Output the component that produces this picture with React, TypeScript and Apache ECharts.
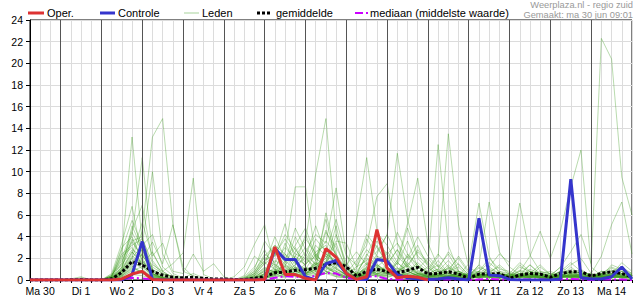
import React, { useEffect, useRef } from 'react';
import * as echarts from 'echarts';

// time axis: index in 6-hour steps, 0 = Ma 30 06:00, 59 = Di 15 00:00
const dayLabels = ['Ma 30', 'Di 1', 'Wo 2', 'Do 3', 'Vr 4', 'Za 5', 'Zo 6', 'Ma 7', 'Di 8', 'Wo 9', 'Do 10', 'Vr 11', 'Za 12', 'Zo 13', 'Ma 14'];
const midnights = [3, 7, 11, 15, 19, 23, 27, 31, 35, 39, 43, 47, 51, 55];

const oper = [0,0,0, 0,0,0,0, 0,0,0.1,0.55, 0.8,0.05,0,0, 0,0,0,0, 0,0,0,0, 0.05,3.05,0.5,0.5, 0.15,0,2.9,2.1, 0.6,0.05,0.3,4.65, 1.1,0.2,0.35,0.25, 0];

const controle = [0,0,0, 0,0,0,0, 0,0,0,0.5, 3.55,0.05,0,0, 0,0,0,0, 0,0,0,0, 0.05,2.9,1.9,1.9, 0.3,0,1.5,1.8, 0.6,0.05,0.05,1.9, 1.75,0.5,0.2,0.1, 0.05,0.1,0.2,0.1, 0,5.7,0.45,0.4, 0.05,0,0,0, 0,0.1,9.3,0.2, 0.1,0.1,0.3,1.2, 0.1];

const gemiddelde = [0,0,0, 0,0.02,0.04,0.01, 0,0.1,0.7,1.7, 1.4,0.8,0.45,0.25, 0.2,0.25,0.15,0.1, 0.1,0.05,0.05,0.15, 0.3,0.67,0.75,0.9, 0.95,1.08,1.38,1.6, 1.23,0.35,0.8,1.0, 0.77,0.67,0.9,1.17, 0.55,0.6,0.77,0.55, 0.15,0.55,0.55,0.6, 0.15,0.46,0.6,0.55, 0.25,0.6,0.77,0.77, 0.37,0.6,0.77,0.6, 0.3];

const mediaan = [0,0,0, 0,0,0,0, 0,0,0.05,0.2, 0.15,0.05,0,0, 0,0,0,0, 0,0,0,0, 0.05,0.2,0.35,0.3, 0.2,0.4,0.65,0.6, 0.2,0.1,0.3,0.35, 0.1,0.05,0.1,0.15, 0.05,0.05,0.05,0.05, 0,0.05,0.1,0.05, 0,0.05,0.05,0.05, 0,0.05,0.1,0.05, 0,0.05,0.05,0.05, 0];

const leden = [
  [0,0,0, 0,0,0,0, 0,0.3,2.5,13.2, 3.5,1,0.4,0.1, 0,0,0,0, 0,0,0,0.2, 0.8,1.5,0.6,2.2, 1.4,2.6,3.2,1.1, 0.4,0.1,0.6,1.8, 2.4,1.1,0.5,0.3, 0.2,0.6,1.1,0.4, 0.1,0.5,0.8,0.3, 0.2,0.6,0.4,0.1, 0.2,0.4,0.8,0.3, 0.1,0.2,0.6,0.4, 0.2],
  [0,0,0, 0,0,0,0, 0,0.5,1.5,4.2, 11.3,2.5,0.8,0.2, 0.1,0,0,0, 0,0,0.1,0.4, 1.2,0.6,2.4,1.1, 0.5,1.8,4.6,2.2, 0.8,0.3,1.2,0.6, 1.5,2.8,1.4,0.6, 0.3,0.2,0.8,1.5, 0.4,1.1,0.5,0.2, 0.3,1.4,0.6,0.2, 0.1,0.3,1.2,0.5, 0.3,0.5,1.1,0.6, 0.4],
  [0,0,0, 0,0,0,0, 0,0.2,0.8,2.1, 4.5,13.2,14.9,5.1, 1.2,0.3,0,0, 0,0,0,0, 0.2,0.8,0.4,1.2, 0.6,1.2,2.0,0.8, 0.3,0.6,1.1,0.4, 0.6,0.3,0.8,1.4, 0.5,0.2,0.4,0.6, 0.2,0.6,0.3,0.1, 0,0.3,0.5,0.2, 0.1,0.2,0.5,0.3, 0.2,0.4,0.3,0.2, 0.1],
  [0,0,0, 0,0,0,0, 0,0.4,2.8,5.5, 3.2,10.0,2.4,0.6, 0.2,0,0,0, 0,0,0.2,0.6, 2.1,1.4,0.8,2.6, 3.8,2.5,1.2,0.6, 0.2,0.5,2.4,1.3, 0.8,0.4,0.2,0.6, 1.2,0.4,0.2,0.3, 0.1,0.3,1.2,0.6, 0.4,0.2,0.3,0.8, 0.4,0.2,0.6,0.4, 0.1,0.3,0.4,0.8, 0.5],
  [0,0,0, 0,0,0,0, 0,0.2,1.2,3.5, 2.2,1.4,0.8,1.5, 2.5,9.4,0.5,0.1, 0,0,0,0, 0.3,0.5,1.2,0.6, 0.4,1.5,0.8,0.3, 0.2,0.1,0.6,1.4, 0.8,0.5,1.6,0.7, 0.3,0.5,0.2,0.4, 0.6,0.3,0.2,0.5, 0.3,0.2,0.6,0.3, 0.2,0.6,0.3,0.1, 0.2,0.5,0.8,0.3, 0.2],
  [0,0,0, 0,0.1,0.3,0, 0,0.6,3.4,6.8, 2.0,3.5,1.5,5.1, 0.8,0.4,0.1,0, 0,0,0,0, 0.1,0.4,1.8,0.9, 0.6,0.9,6.2,2.4, 0.6,0.2,0.4,0.8, 1.2,0.6,0.3,0.2, 0.4,0.8,0.3,0.2, 0.2,0.4,0.6,1.4, 0.6,0.3,0.2,0.4, 0.3,0.4,0.2,0.6, 0.3,0.2,0.5,0.4, 0.3],
  [0,0,0, 0,0,0,0, 0,0.3,2.0,4.6, 6.9,1.8,0.6,0.3, 0.1,0,0,0, 0,0,0,0.5, 1.5,2.2,5.2,1.8, 0.8,1.6,1.2,0.8, 0.5,0.3,0.8,0.5, 0.4,1.6,0.8,0.4, 0.2,0.4,1.2,0.6, 0.3,0.2,0.4,0.6, 0.2,0.6,1.4,0.5, 0.2,0.8,0.4,0.3, 0.2,0.6,0.4,0.2, 0.3],
  [0,0,0, 0,0,0,0, 0,0.2,1.0,2.4, 5.3,2.2,3.4,0.8, 0.6,2.4,0.8,1.5, 0.3,0,0,0, 0.2,0.6,0.3,0.8, 1.2,0.5,2.4,1.6, 0.4,0.2,0.6,0.3, 0.5,0.8,2.2,0.9, 0.3,0.6,0.4,0.2, 0.1,0.3,0.2,0.4, 0.3,0.5,0.3,0.2, 0.4,0.2,0.3,0.5, 0.6,0.3,0.2,0.3, 0.2],
  [0,0,0, 0,0,0,0, 0,0.1,0.8,1.6, 2.8,0.9,0.3,0.1, 0,0,0,0, 0,0.3,1.2,3.3, 5.1,1.2,2.6,8.6, 8.6,2.0,1.4,0.6, 0.3,0.2,1.5,0.8, 0.5,0.3,0.8,0.4, 0.2,0.5,0.3,0.6, 0.4,0.2,0.5,0.3, 0.2,0.4,0.2,0.6, 0.3,0.2,0.4,0.2, 0.4,0.2,0.3,0.6, 0.4],
  [0,0,0, 0,0,0,0, 0,0,0.4,1.2, 2.0,0.6,0.2,0, 0,0,0,0, 0,0,0,0.2, 0.6,0.8,1.4,2.2, 3.6,9.8,14.9,4.2, 1.2,0.4,0.8,0.5, 1.1,0.6,0.3,0.6, 0.3,0.2,0.4,0.3, 0.1,0.3,0.6,0.2, 0.2,0.3,0.2,0.4, 0.6,0.3,0.2,0.4, 0.2,0.1,0.3,0.2, 0.2],
  [0,0,0, 0,0,0,0, 0,0.2,0.6,2.0, 1.4,0.5,0.2,0, 0,0,0,0, 0,0,0.1,0.6, 1.8,3.2,2.4,1.5, 2.6,4.2,3.4,8.5, 2.4,0.6,0.4,1.2, 0.8,0.4,0.3,0.5, 0.8,0.3,0.2,0.4, 0.3,0.5,0.2,0.3, 0.5,0.2,0.3,0.2, 0.2,0.4,0.6,0.2, 0.3,0.5,0.2,0.4, 0.3],
  [0,0,0, 0,0,0,0, 0,0.1,0.5,1.4, 1.8,0.6,0.1,0, 0,0,0,0, 0,0,0,0.1, 0.4,1.2,0.8,0.6, 1.5,2.2,1.6,3.4, 0.8,5.5,11.3,4.6, 1.8,0.6,0.4,0.8, 0.4,0.6,0.3,0.2, 0.2,0.4,0.3,0.6, 0.4,0.2,0.8,0.3, 0.2,0.3,0.4,0.2, 0.3,0.2,0.4,0.3, 0.2],
  [0,0,0, 0,0,0,0, 0,0.2,1.1,2.6, 1.6,0.4,0.1,0, 0,0,0,0, 0,0,0,0.3, 0.9,0.5,1.6,3.0, 1.2,0.8,2.6,1.4, 0.6,1.8,3.2,7.7, 8.9,3.4,1.2,0.6, 0.3,0.5,1.4,0.6, 0.3,0.2,0.4,0.2, 0.3,0.6,0.4,0.2, 0.1,0.3,0.5,0.8, 0.4,0.2,0.6,0.5, 0.3],
  [0,0,0, 0,0,0,0, 0,0,0.3,0.9, 1.2,0.4,0.1,0, 0,0,0,0, 0,0,0,0, 0.3,0.6,1.0,0.4, 0.8,1.4,2.2,1.0, 0.5,0.3,0.8,2.4, 4.2,11.7,5.6,2.2, 1.4,0.6,0.3,0.5, 0.2,0.4,0.6,0.3, 0.2,0.3,0.2,0.4, 0.2,0.5,0.3,0.2, 0.2,0.4,0.3,0.2, 0.2],
  [0,0,0, 0,0,0,0, 0,0.1,0.4,1.1, 0.8,0.3,0,0, 0,0,0,0, 0,0,0,0.2, 0.5,0.8,0.4,1.1, 0.6,1.3,0.9,1.8, 0.6,0.4,1.0,1.5, 0.6,1.8,5.2,9.4, 3.4,1.2,2.4,0.8, 0.4,0.6,0.3,0.2, 0.4,0.2,0.6,0.3, 0.2,0.3,0.2,0.5, 0.3,0.6,0.4,0.3, 0.4],
  [0,0,0, 0,0,0,0, 0,0,0.2,0.6, 0.9,0.2,0,0, 0,0,0,0, 0,0,0,0, 0.2,0.4,0.8,0.5, 0.4,1.0,1.6,0.7, 0.3,0.5,0.4,1.2, 2.0,0.8,1.4,2.6, 1.5,12.5,3.2,0.8, 0.4,0.8,0.3,0.2, 0.3,0.4,0.3,0.2, 0.1,0.2,0.4,0.3, 0.2,0.3,0.2,0.4, 0.2],
  [0,0,0, 0,0,0,0, 0,0.1,0.5,1.3, 0.6,0.2,0,0, 0,0,0,0, 0,0,0,0.1, 0.3,0.9,0.6,1.2, 0.8,0.5,1.1,0.6, 0.2,0.6,1.6,0.9, 0.6,1.1,0.8,1.6, 0.8,2.2,13.5,5.1, 1.2,0.6,0.3,0.4, 0.2,0.3,0.5,0.3, 0.2,0.4,0.3,0.2, 0.1,0.3,0.2,0.3, 0.2],
  [0,0,0, 0,0,0,0, 0,0.2,0.7,1.8, 1.0,0.3,0.1,0, 0,0,0,0, 0,0,0,0.4, 1.1,0.7,0.5,1.4, 2.0,1.2,0.6,1.5, 0.8,0.3,0.5,0.8, 1.2,0.5,0.8,0.4, 0.6,1.8,0.6,0.4, 1.5,7.1,2.2,0.6, 0.3,0.4,0.2,0.3, 0.2,0.5,0.4,0.6, 0.2,0.4,0.3,0.6, 0.3],
  [0,0,0, 0,0,0.2,0, 0,0.1,0.6,1.5, 2.4,0.6,0.2,0, 0,0,0,0, 0,0,0,0, 0.4,0.6,1.3,0.8, 0.5,1.6,0.8,0.4, 0.3,0.2,0.9,0.6, 0.4,0.8,1.3,0.6, 0.4,0.3,0.8,1.2, 0.3,1.4,7.2,2.6, 1.2,0.5,0.3,0.4, 0.3,0.2,0.5,0.3, 0.2,0.5,0.4,0.3, 0.3],
  [0,0,0, 0,0,0,0, 0,0.2,0.9,2.2, 1.6,0.4,0.2,0.1, 0,0,0,0, 0,0,0,0.2, 0.6,1.0,0.6,0.5, 1.1,0.6,1.8,1.0, 0.5,0.2,0.4,1.1, 0.6,0.4,0.5,1.2, 0.6,0.4,0.3,0.8, 0.4,0.6,1.2,2.4, 1.6,7.1,2.3,0.8, 0.6,0.3,0.4,0.2, 0.3,0.2,0.5,0.4, 0.3],
  [0,0,0, 0,0,0,0, 0,0.1,0.3,0.8, 0.6,0.2,0,0, 0,0,0,0, 0,0,0,0, 0.2,0.5,0.3,0.6, 0.4,0.8,0.6,0.3, 0.2,0.4,0.3,0.6, 0.8,0.3,0.6,0.4, 0.2,0.4,0.6,0.3, 0.2,0.5,0.4,0.3, 0.3,0.8,2.2,4.5, 2.0,4.6,8.6,12.0, 1.2,0.4,0.3,0.6, 0.4],
  [0,0,0, 0,0,0,0, 0,0,0.2,0.5, 0.4,0.1,0,0, 0,0,0,0, 0,0,0,0, 0.2,0.3,0.5,0.3, 0.6,0.4,0.8,0.5, 0.2,0.3,0.6,0.4, 0.3,0.5,0.2,0.4, 0.3,0.2,0.4,0.6, 0.2,0.3,0.5,0.4, 0.2,0.4,0.3,0.6, 0.4,1.2,2.6,4.2, 1.5,22.3,20.4,9.5, 6.0],
  [0,0,0, 0,0,0,0, 0,0,0.4,1.0, 0.8,0.3,0.1,0, 0,0,0,0, 0,0,0,0.1, 0.3,0.4,0.2,0.8, 0.5,0.3,0.6,1.2, 0.4,0.2,0.3,0.5, 0.2,0.6,0.4,0.3, 0.5,0.3,0.2,0.4, 0.3,0.2,0.6,0.4, 0.3,0.5,0.4,0.2, 0.3,0.6,1.4,2.0, 0.6,2.2,5.1,7.2, 2.4],
  [0,0,0, 0,0,0,0, 0,0.3,1.4,2.8, 2.2,1.2,0.6,0.3, 0.1,0,0,0, 0,0,0.2,0.8, 2.4,1.6,3.0,2.0, 1.4,3.2,2.2,1.6, 0.6,1.2,2.8,1.8, 2.6,1.4,3.6,1.2, 0.8,1.4,0.6,0.3, 0.2,0.8,1.6,0.8, 0.4,1.2,0.8,0.5, 0.2,0.4,1.0,0.6, 0.4,0.3,1.4,1.0, 0.6],
  [0,0,0, 0,0,0,0, 0,0.4,1.8,3.6, 4.0,1.0,0.3,0.1, 0,0,0,0, 0,0,0.1,0.3, 0.8,2.6,1.4,0.9, 2.4,1.4,4.4,3.0, 1.2,0.5,1.2,3.2, 1.4,2.8,1.0,0.6, 0.5,0.8,1.8,0.7, 0.3,0.4,0.8,1.2, 0.5,0.3,1.0,0.6, 0.3,0.8,0.5,0.3, 0.2,0.8,0.6,0.5, 0.4],
  [0,0,0, 0,0,0,0, 0,0.1,1.0,5.0, 2.8,0.8,0.2,0, 0,0,0,0, 0,0,0,0.2, 1.0,0.8,3.4,1.6, 1.0,2.4,1.2,4.2, 1.6,0.4,0.6,1.4, 0.8,0.6,1.8,3.2, 1.2,0.4,0.3,0.6, 0.4,0.3,0.5,0.3, 0.6,0.4,0.3,1.2, 0.5,0.3,0.8,0.4, 0.5,0.3,0.2,0.6, 0.5],
  [0,0,0, 0,0,0,0, 0,0.2,0.8,2.0, 3.2,4.2,1.2,0.4, 0.2,0.6,0.2,0, 0,0,0.3,1.2, 2.8,0.9,0.5,1.8, 3.0,1.8,5.6,2.0, 0.6,0.3,0.5,2.2, 1.0,0.5,0.6,1.0, 2.0,0.8,0.5,0.3, 0.6,0.8,0.4,0.2, 0.3,0.6,0.5,0.3, 0.4,0.8,0.6,0.4, 0.3,0.4,0.8,1.2, 0.6],
  [0,0,0, 0,0,0,0, 0,0.3,2.2,3.0, 1.4,2.6,0.8,0.2, 0,0,0,0, 0,0,0,0.4, 1.6,1.0,0.6,0.8, 0.6,1.0,2.8,1.4, 0.8,1.0,3.8,2.2, 1.8,0.9,0.4,0.3, 0.4,0.6,0.8,2.2, 0.8,0.3,0.6,0.4, 0.2,0.5,0.6,0.4, 0.6,0.4,0.3,0.8, 0.4,0.6,0.4,0.3, 0.2],
  [0,0,0, 0,0,0,0, 0,0.2,1.2,3.8, 1.8,0.6,0.2,0, 0,0,0,0, 0,0,0,0.1, 0.6,1.8,1.2,4.0, 2.2,0.8,1.6,5.0, 1.0,0.6,1.0,0.6, 0.6,0.4,2.4,1.4, 0.6,1.0,0.4,0.3, 0.2,0.4,0.2,0.6, 0.4,0.8,0.4,0.2, 0.2,0.5,0.3,0.4, 0.2,0.4,0.6,0.3, 0.3],
  [0,0,0, 0,0,0,0, 0,0.1,0.6,1.6, 1.2,0.5,0.2,0, 0,0,0,0, 0,0,0,0.2, 0.5,0.6,0.8,1.4, 4.2,2.0,1.2,0.6, 0.4,0.8,2.0,1.2, 0.6,1.6,0.8,0.5, 0.3,0.4,0.6,0.4, 0.4,0.2,0.3,0.8, 0.6,0.3,0.4,0.6, 0.3,0.4,0.2,0.3, 0.4,0.3,0.5,0.2, 0.3],
  [0,0,0, 0,0,0,0, 0,0.2,1.6,4.4, 2.6,0.8,0.2,0, 0,0,0,0, 0,0,0.2,1.0, 3.6,2.2,4.2,2.8, 1.6,3.8,2.6,5.6, 2.2,1.4,4.2,3.0, 1.6,4.4,2.4,1.2, 0.6,1.0,2.6,1.4, 0.5,1.2,0.8,0.4, 0.6,1.6,0.8,0.4, 0.3,0.8,1.6,0.8, 0.4,0.6,1.2,0.8, 0.5],
  [0,0,0, 0,0,0,0, 0,0.3,2.4,3.2, 3.8,1.6,0.5,0.2, 0,0,0,0, 0,0,0.4,2.2, 1.4,4.0,2.0,3.2, 4.8,2.2,3.6,2.4, 1.0,0.6,2.2,4.4, 3.2,1.6,4.8,2.0, 1.0,2.4,1.2,0.6, 0.3,0.8,2.0,1.0, 0.8,0.4,1.4,0.6, 0.4,1.2,0.6,1.0, 0.3,0.8,0.5,1.6, 0.8],
  [0,0,0, 0,0,0,0, 0,0.1,0.9,2.6, 1.4,0.5,0.1,0, 0,0,0,0, 0,0,0.1,0.8, 2.2,3.2,1.6,4.8, 2.8,1.4,2.0,3.6, 3.4,1.2,1.8,2.6, 4.2,2.2,1.2,2.8, 1.6,0.8,1.0,2.0, 0.6,0.4,1.0,0.6, 0.4,0.9,0.6,1.4, 0.5,0.3,0.8,0.6, 0.2,0.5,0.9,0.4, 0.3],
  [0,0,0, 0,0,0,0, 0,0.4,3.0,4.0, 1.8,0.6,0.2,0, 0,0,0,0, 0,0,0,0.6, 1.8,2.4,3.8,2.4, 2.0,5.0,2.4,1.8, 1.4,2.6,1.4,3.6, 2.4,3.4,2.0,4.0, 2.2,1.2,0.6,0.8, 0.4,1.4,0.6,0.3, 0.5,0.4,0.8,0.6, 0.8,0.4,0.3,0.6, 0.6,0.3,0.4,0.8, 0.4],
];

const FONT = '"Liberation Sans", Arial, sans-serif';
const pts = (arr: number[]) => arr.map((v, i) => [i, v]);

export default function App() {
  const ref = useRef<HTMLDivElement>(null);
  useEffect(() => {
    if (!ref.current) return;
    const chart = echarts.init(ref.current, undefined, { renderer: 'svg' });
    const ledenSeries = leden.map((m) => ({
      name: 'Leden',
      type: 'line',
      data: pts(m),
      symbol: 'none',
      silent: true,
      z: 2,
      lineStyle: { color: 'rgba(60,155,30,0.36)', width: 1 },
    }));
    const legendY = 13;
    const txt = (x: number, text: string) => ({
      type: 'text', x, y: legendY,
      style: { text, font: `11px ${FONT}`, fill: '#000', verticalAlign: 'middle', align: 'left' },
    });
    const ln = (x1: number, x2: number, stroke: string, lineWidth: number, lineDash?: number[]) => ({
      type: 'line', shape: { x1, y1: legendY, x2, y2: legendY },
      style: { stroke, lineWidth, lineDash },
    });
    chart.setOption({
      animation: false,
      backgroundColor: '#fff',
      grid: { left: 30, top: 20, width: 605, height: 260, show: true, borderColor: '#000', borderWidth: 1, backgroundColor: 'transparent' },
      xAxis: {
        type: 'value', min: 0, max: 59, interval: 1,
        axisLine: { show: true, lineStyle: { color: '#000', width: 1 } },
        axisTick: { show: true, length: 3, lineStyle: { color: '#000' } },
        splitLine: { show: true, lineStyle: { color: '#dcdcdc', width: 1 } },
        axisLabel: {
          color: '#000', fontSize: 10.5, fontFamily: FONT, margin: 5,
          showMinLabel: true, showMaxLabel: true,
          formatter: (v: number) => {
            const k = (v - 1) / 4;
            return Number.isInteger(k) && k >= 0 && k < dayLabels.length ? dayLabels[k] : '';
          },
        },
      },
      yAxis: {
        type: 'value', min: 0, max: 24, interval: 2,
        axisLine: { show: true, lineStyle: { color: '#000', width: 1 } },
        axisTick: { show: true, length: 4, lineStyle: { color: '#000' } },
        splitLine: { show: true, lineStyle: { color: '#dcdcdc', width: 1 } },
        axisLabel: { color: '#000', fontSize: 10.5, fontFamily: FONT, margin: 7 },
      },
      graphic: [
        ln(28, 44, '#dd3333', 3), txt(47, 'Oper.'),
        ln(100, 115, '#3535cc', 3), txt(118, 'Controle'),
        ln(184, 199, 'rgba(60,155,30,0.45)', 1), txt(202, 'Leden'),
        ln(257, 271, '#000', 3, [3, 2]), txt(276, 'gemiddelde'),
        ln(355, 368, '#cc00ff', 2, [8, 3, 2, 3]), txt(370, 'mediaan (middelste waarde)'),
        { type: 'text', x: 633, y: 5, style: { text: 'Weerplaza.nl - regio zuid', font: `9.3px ${FONT}`, fill: '#999', align: 'right', verticalAlign: 'middle' } },
        { type: 'text', x: 633, y: 14.5, style: { text: 'Gemaakt: ma 30 jun 09:01', font: `9.3px ${FONT}`, fill: '#999', align: 'right', verticalAlign: 'middle' } },
      ],
      series: [
        {
          name: 'dagen', type: 'line', data: [[0, 0]], symbol: 'none', silent: true, z: 1,
          lineStyle: { opacity: 0 },
          markLine: {
            silent: true, symbol: ['none', 'none'], label: { show: false },
            lineStyle: { color: '#555', width: 1, type: 'solid' },
            data: midnights.map((m) => ({ xAxis: m })),
          },
        },
        ...ledenSeries,
        {
          name: 'mediaan', type: 'line', data: pts(mediaan), symbol: 'none', silent: true, z: 4,
          lineStyle: { color: '#cc00ff', width: 2, type: [8, 3, 2, 3] },
        },
        {
          name: 'gemiddelde', type: 'line', data: pts(gemiddelde), symbol: 'none', silent: true, z: 5,
          lineStyle: { color: '#000', width: 3, type: [3, 2] },
        },
        {
          name: 'Controle', type: 'line', data: pts(controle), symbol: 'none', silent: true, z: 6,
          lineStyle: { color: '#3535cc', width: 3 },
        },
        {
          name: 'Oper.', type: 'line', data: pts(oper), symbol: 'none', silent: true, z: 7,
          lineStyle: { color: '#dd3333', width: 3 },
        },
      ],
    });
    return () => chart.dispose();
  }, []);
  return <div ref={ref} style={{ position: 'fixed', left: 0, top: 0, width: 635, height: 300 }} />;
}
